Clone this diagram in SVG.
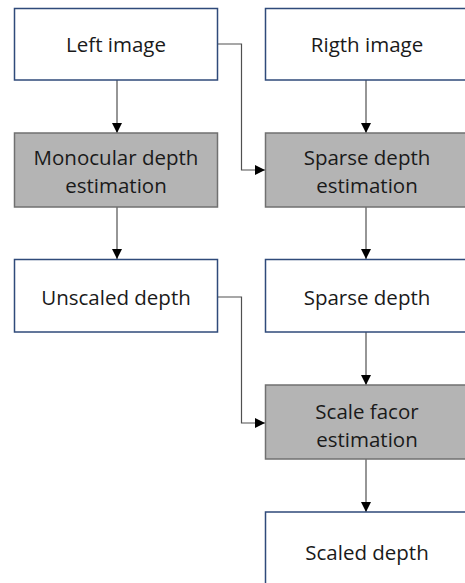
<svg xmlns="http://www.w3.org/2000/svg" width="465" height="583" viewBox="0 0 465 583">
<defs>
<style>
.w{fill:#ffffff;stroke:#2f4a7a;stroke-width:1.5}
.g{fill:#b4b4b4;stroke:#707070;stroke-width:1.5}
.t{font-family:"Open Sans","Liberation Sans",sans-serif;font-size:20.5px;fill:#1a1a1a;text-anchor:middle}
.c{fill:none;stroke:#505050;stroke-width:1.2}
</style>
<marker id="ah" viewBox="0 0 10 10" refX="10" refY="5" markerWidth="10" markerHeight="10" markerUnits="userSpaceOnUse" orient="auto">
<path d="M0,0 L10,5 L0,10 Z" fill="#000"/>
</marker>
</defs>
<rect width="465" height="583" fill="#fff"/>
<g id="connectors">
<path class="c" d="M117,80 V133" marker-end="url(#ah)"/>
<path class="c" d="M117,207 V259" marker-end="url(#ah)"/>
<path class="c" d="M366,80 V133" marker-end="url(#ah)"/>
<path class="c" d="M366,207 V259" marker-end="url(#ah)"/>
<path class="c" d="M366,332 V385" marker-end="url(#ah)"/>
<path class="c" d="M366,459 V512" marker-end="url(#ah)"/>
<path class="c" d="M218,44 H241.5 V170 H265" marker-end="url(#ah)"/>
<path class="c" d="M218,297 H241.5 V423 H265" marker-end="url(#ah)"/>
</g>
<g id="left-image"><rect class="w" x="14.5" y="8.5" width="203" height="71.5"/><text class="t" x="116" y="52">Left image</text></g>
<g id="right-image"><rect class="w" x="265.5" y="8.5" width="210" height="71.5"/><text class="t" x="367" y="52">Rigth image</text></g>
<g id="monocular"><rect class="g" x="14.5" y="133" width="203" height="74"/><text class="t" x="116" y="165">Monocular depth</text><text class="t" x="116" y="193">estimation</text></g>
<g id="sparse-est"><rect class="g" x="265.5" y="133" width="210" height="74"/><text class="t" x="367" y="165">Sparse depth</text><text class="t" x="367" y="193">estimation</text></g>
<g id="unscaled"><rect class="w" x="14.5" y="259.5" width="203" height="72.5"/><text class="t" x="116" y="305">Unscaled depth</text></g>
<g id="sparse-depth"><rect class="w" x="265.5" y="259.5" width="210" height="72.5"/><text class="t" x="367" y="305">Sparse depth</text></g>
<g id="scale-factor"><rect class="g" x="265.5" y="385" width="210" height="74"/><text class="t" x="367" y="419">Scale facor</text><text class="t" x="367" y="447">estimation</text></g>
<g id="scaled"><rect class="w" x="265.5" y="512" width="210" height="90"/><text class="t" x="367" y="560">Scaled depth</text></g>
</svg>
